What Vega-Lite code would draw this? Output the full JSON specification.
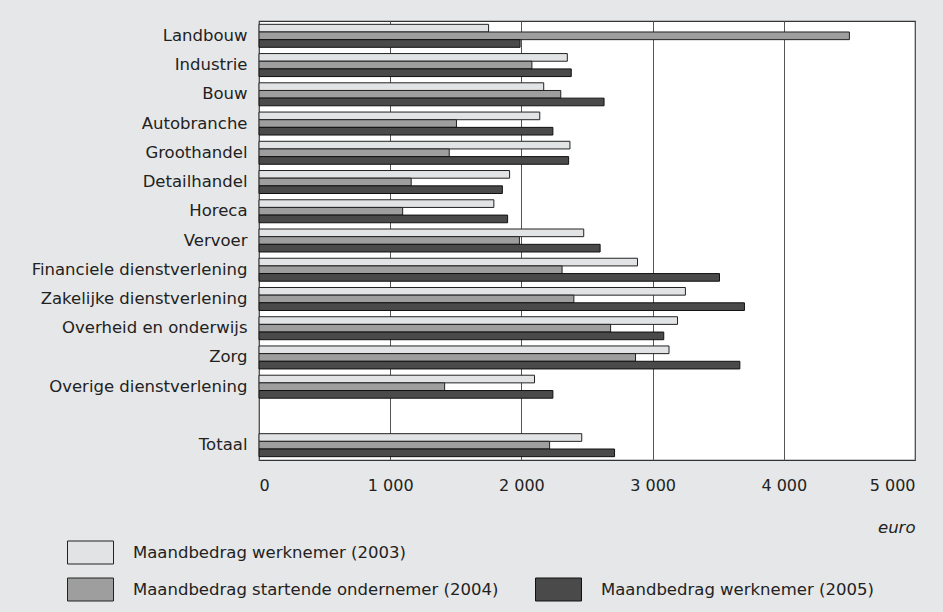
{
  "$schema": "https://vega.github.io/schema/vega-lite/v6.json",
  "autosize": {"type": "none"},
  "padding": {"left": 259, "top": 21, "right": 28, "bottom": 152},
  "width": 656,
  "height": 439,
  "background": "#e6e7e8",
  "config": {
    "font": "DejaVu Sans",
    "view": {"fill": "white", "stroke": "#333", "strokeWidth": 1.2}
  },
  "data": {
    "values": [
      {"cat": "Landbouw", "serie": "Maandbedrag werknemer (2003)", "value": 1750},
      {"cat": "Landbouw", "serie": "Maandbedrag startende ondernemer (2004)", "value": 4500},
      {"cat": "Landbouw", "serie": "Maandbedrag werknemer (2005)", "value": 1990},
      {"cat": "Industrie", "serie": "Maandbedrag werknemer (2003)", "value": 2350},
      {"cat": "Industrie", "serie": "Maandbedrag startende ondernemer (2004)", "value": 2080},
      {"cat": "Industrie", "serie": "Maandbedrag werknemer (2005)", "value": 2380},
      {"cat": "Bouw", "serie": "Maandbedrag werknemer (2003)", "value": 2170},
      {"cat": "Bouw", "serie": "Maandbedrag startende ondernemer (2004)", "value": 2300},
      {"cat": "Bouw", "serie": "Maandbedrag werknemer (2005)", "value": 2630},
      {"cat": "Autobranche", "serie": "Maandbedrag werknemer (2003)", "value": 2140},
      {"cat": "Autobranche", "serie": "Maandbedrag startende ondernemer (2004)", "value": 1505},
      {"cat": "Autobranche", "serie": "Maandbedrag werknemer (2005)", "value": 2240},
      {"cat": "Groothandel", "serie": "Maandbedrag werknemer (2003)", "value": 2370},
      {"cat": "Groothandel", "serie": "Maandbedrag startende ondernemer (2004)", "value": 1450},
      {"cat": "Groothandel", "serie": "Maandbedrag werknemer (2005)", "value": 2360},
      {"cat": "Detailhandel", "serie": "Maandbedrag werknemer (2003)", "value": 1910},
      {"cat": "Detailhandel", "serie": "Maandbedrag startende ondernemer (2004)", "value": 1160},
      {"cat": "Detailhandel", "serie": "Maandbedrag werknemer (2005)", "value": 1855},
      {"cat": "Horeca", "serie": "Maandbedrag werknemer (2003)", "value": 1790},
      {"cat": "Horeca", "serie": "Maandbedrag startende ondernemer (2004)", "value": 1095},
      {"cat": "Horeca", "serie": "Maandbedrag werknemer (2005)", "value": 1895},
      {"cat": "Vervoer", "serie": "Maandbedrag werknemer (2003)", "value": 2475},
      {"cat": "Vervoer", "serie": "Maandbedrag startende ondernemer (2004)", "value": 1985},
      {"cat": "Vervoer", "serie": "Maandbedrag werknemer (2005)", "value": 2600},
      {"cat": "Financiele dienstverlening", "serie": "Maandbedrag werknemer (2003)", "value": 2885},
      {"cat": "Financiele dienstverlening", "serie": "Maandbedrag startende ondernemer (2004)", "value": 2310},
      {"cat": "Financiele dienstverlening", "serie": "Maandbedrag werknemer (2005)", "value": 3510},
      {"cat": "Zakelijke dienstverlening", "serie": "Maandbedrag werknemer (2003)", "value": 3250},
      {"cat": "Zakelijke dienstverlening", "serie": "Maandbedrag startende ondernemer (2004)", "value": 2400},
      {"cat": "Zakelijke dienstverlening", "serie": "Maandbedrag werknemer (2005)", "value": 3700},
      {"cat": "Overheid en onderwijs", "serie": "Maandbedrag werknemer (2003)", "value": 3190},
      {"cat": "Overheid en onderwijs", "serie": "Maandbedrag startende ondernemer (2004)", "value": 2680},
      {"cat": "Overheid en onderwijs", "serie": "Maandbedrag werknemer (2005)", "value": 3085},
      {"cat": "Zorg", "serie": "Maandbedrag werknemer (2003)", "value": 3125},
      {"cat": "Zorg", "serie": "Maandbedrag startende ondernemer (2004)", "value": 2870},
      {"cat": "Zorg", "serie": "Maandbedrag werknemer (2005)", "value": 3665},
      {"cat": "Overige dienstverlening", "serie": "Maandbedrag werknemer (2003)", "value": 2100},
      {"cat": "Overige dienstverlening", "serie": "Maandbedrag startende ondernemer (2004)", "value": 1415},
      {"cat": "Overige dienstverlening", "serie": "Maandbedrag werknemer (2005)", "value": 2240},
      {"cat": "Totaal", "serie": "Maandbedrag werknemer (2003)", "value": 2460},
      {"cat": "Totaal", "serie": "Maandbedrag startende ondernemer (2004)", "value": 2215},
      {"cat": "Totaal", "serie": "Maandbedrag werknemer (2005)", "value": 2710}
    ]
  },
  "mark": {"type": "bar", "strokeWidth": 1},
  "encoding": {
    "y": {
      "field": "cat",
      "type": "nominal",
      "scale": {
        "domain": ["Landbouw", "Industrie", "Bouw", "Autobranche", "Groothandel", "Detailhandel", "Horeca", "Vervoer", "Financiele dienstverlening", "Zakelijke dienstverlening", "Overheid en onderwijs", "Zorg", "Overige dienstverlening", " ", "Totaal"],
        "paddingInner": 0.214,
        "paddingOuter": 0.114
      },
      "axis": {
        "title": null,
        "ticks": false,
        "domain": false,
        "labelFontSize": 16.5,
        "labelColor": "#222",
        "labelPadding": 12,
        "labelLimit": 300
      }
    },
    "yOffset": {
      "field": "serie",
      "type": "nominal",
      "scale": {
        "domain": ["Maandbedrag werknemer (2003)", "Maandbedrag startende ondernemer (2004)", "Maandbedrag werknemer (2005)"],
        "paddingInner": 0,
        "paddingOuter": 0
      }
    },
    "x": {
      "field": "value",
      "type": "quantitative",
      "scale": {"domain": [0, 5000], "nice": false},
      "axis": {
        "title": "euro",
        "titleFontStyle": "italic",
        "titleFontWeight": "normal",
        "titleFontSize": 16.5,
        "titleAnchor": "end",
        "titleAlign": "right",
        "titlePadding": 26,
        "titleColor": "#222",
        "values": [0, 1000, 2000, 3000, 4000, 5000],
        "labelExpr": "replace(format(datum.value, ','), ',', ' ')",
        "labelFontSize": 16,
        "labelColor": "#222",
        "labelPadding": 17,
        "ticks": false,
        "domain": false,
        "grid": true,
        "gridColor": "#555",
        "gridWidth": 1
      }
    },
    "fill": {
      "field": "serie",
      "type": "nominal",
      "scale": {
        "domain": ["Maandbedrag werknemer (2003)", "Maandbedrag startende ondernemer (2004)", "", "Maandbedrag werknemer (2005)"],
        "range": ["#e2e3e4", "#9e9e9e", "transparent", "#4a4a4a"]
      },
      "legend": {
        "title": null,
        "orient": "none",
        "legendX": -192,
        "legendY": 508,
        "columns": 2,
        "columnPadding": 34,
        "rowPadding": -9,
        "symbolType": "M-1,-0.5H1V0.5H-1Z",
        "symbolSize": 2116,
        "symbolStrokeWidth": 1,
        "labelFontSize": 16.5,
        "labelColor": "#222",
        "labelOffset": 19,
        "labelLimit": 500
      }
    },
    "stroke": {
      "field": "serie",
      "type": "nominal",
      "scale": {
        "domain": ["Maandbedrag werknemer (2003)", "Maandbedrag startende ondernemer (2004)", "", "Maandbedrag werknemer (2005)"],
        "range": ["#222", "#222", "transparent", "#111"]
      }
    }
  }
}
